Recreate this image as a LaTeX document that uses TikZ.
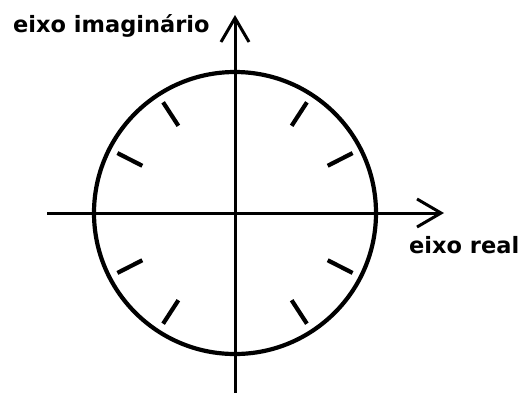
\documentclass[tikz,border=0pt]{standalone}
\usepackage{fontspec}
\setmainfont{DejaVu Sans}
\usetikzlibrary{arrows.meta,calc}
\tikzset{
  eixo/.style={line width=3pt, -{Straight Barb[length=24pt,width=28pt,line width=3pt]}},
  rotulo/.style={anchor=base west, inner sep=0pt, font=\fontsize{22.5}{26}\selectfont\bfseries},
  marca/.style={line width=4.2pt}
}
\begin{document}
\begin{tikzpicture}[x=1pt,y=-1pt]
  \useasboundingbox (0,0) rectangle (524,392);
  \coordinate (O) at (235,213);
  \coordinate (xmin) at (47,213);
  \coordinate (xmax) at (444,213);
  \coordinate (ymin) at (235,394);
  \coordinate (ymax) at (235,15);
  \draw[eixo] (xmin) -- (xmax);
  \draw[eixo] (ymin) -- (ymax);
  \draw[line width=4.2pt] (O) circle[radius=141];
  \foreach \a in {27,57,123,153,207,237,303,333}
    \draw[marca] ($(O)+(\a:104)$) -- ($(O)+(\a:132)$);
  \node[rotulo] (imag) at (13,32) {eixo imaginário};
  \node[rotulo] (real) at (409,253) {eixo real};
\end{tikzpicture}
\end{document}
